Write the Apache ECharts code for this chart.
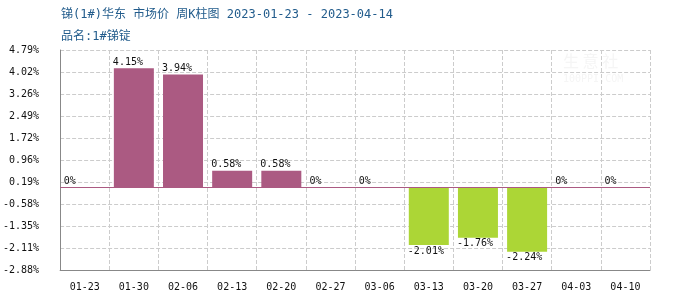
<!DOCTYPE html>
<html><head><meta charset="utf-8">
<script src="https://cdn.jsdelivr.net/npm/echarts@6/dist/echarts.min.js"></script>
<style>html,body{margin:0;padding:0;background:#fff}#c{width:700px;height:300px}</style>
</head><body><div id="c"></div>
<script>
const categories = ['01-23','01-30','02-06','02-13','02-20','02-27','03-06','03-13','03-20','03-27','04-03','04-10'];
const values = [0, 4.15, 3.94, 0.58, 0.58, 0, 0, -2.01, -1.76, -2.24, 0, 0];
const yTickLabels = ['-2.88%','-2.11%','-1.35%','-0.58%','0.19%','0.96%','1.72%','2.49%','3.26%','4.02%','4.79%'];
const yMin = -2.88, yMax = 4.79;
const titleText = '锑(1#)华东 市场价 周K柱图 2023-01-23 - 2023-04-14';
const subText = '品名:1#锑锭';

const mono = "'DejaVu Sans Mono', 'Noto Sans CJK SC', monospace";
const barData = values.map(v => ({
  value: v,
  itemStyle: { color: v < 0 ? '#acd636' : '#ab5a82' },
  label: { position: v < 0 ? 'bottom' : 'top' }
}));

const chart = echarts.init(document.getElementById('c'), null, {renderer: 'canvas'});
chart.setOption({
  animation: false,
  backgroundColor: '#fff',
  title: [
    { text: titleText, left: 56, top: 4,
      textStyle: { fontSize: 12, fontWeight: 'normal', color: '#225c8c', fontFamily: mono } },
    { text: subText, left: 56, top: 26,
      textStyle: { fontSize: 12, fontWeight: 'normal', color: '#225c8c', fontFamily: mono } }
  ],
  graphic: [
    { type: 'text', left: 563, top: 53, style: { text: '生 意 社', fontSize: 16, fill: '#f5f5f5', fontFamily: 'Noto Sans CJK SC' } },
    { type: 'text', left: 563, top: 74, style: { text: '100PPI.COM', fontSize: 10, fill: '#f5f5f5', fontFamily: mono } }
  ],
  grid: { left: 60, right: 50, top: 50, bottom: 30, containLabel: false },
  xAxis: {
    type: 'category', data: categories,
    axisLine: { onZero: false, lineStyle: { color: '#888' } },
    axisTick: { show: false },
    axisLabel: { color: '#111', fontSize: 10, fontFamily: mono, margin: 12 },
    splitLine: { show: true, lineStyle: { color: '#ccc', type: 'dashed' } }
  },
  yAxis: {
    type: 'value', min: yMin, max: yMax, interval: (yMax - yMin) / 10,
    axisLine: { show: true, lineStyle: { color: '#888' } },
    axisTick: { show: false },
    axisLabel: { color: '#111', fontSize: 10, fontFamily: mono, margin: 21,
      formatter: (v, i) => yTickLabels[i] !== undefined ? yTickLabels[i] : '' },
    splitLine: { show: true, lineStyle: { color: '#ccc', type: 'dashed' } }
  },
  series: [{
    type: 'bar', data: barData, barWidth: 40,
    label: { show: true, formatter: p => p.value + '%', color: '#111', fontSize: 10,
      fontFamily: mono, align: 'left', offset: [-21, 0], distance: 1 },
    markLine: {
      silent: true, symbol: 'none', label: { show: false },
      lineStyle: { color: '#ab5a82', width: 1, type: 'solid', opacity: 1 },
      data: [{ yAxis: 0 }]
    }
  }]
});
</script></body></html>
